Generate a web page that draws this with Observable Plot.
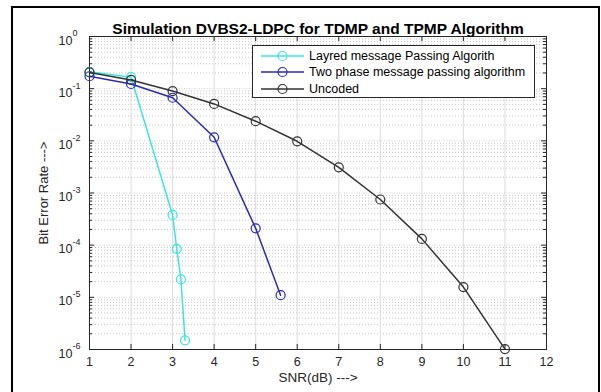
<!DOCTYPE html>
<html><head><meta charset="utf-8">
<script src="https://cdn.jsdelivr.net/npm/d3@7"></script>
<script src="https://cdn.jsdelivr.net/npm/@observablehq/plot@0.6"></script>
<style>
html,body{margin:0;padding:0;background:#fff;overflow:hidden;width:601px;height:392px}
#wrap{position:relative;width:601px;height:392px;font-family:"Liberation Sans",Arial,sans-serif}
#wrap svg{display:block}
#border{position:absolute;left:11px;top:6px;width:589px;height:420px;border:2px solid #000;box-sizing:border-box;pointer-events:none}
#legend{position:absolute;left:252px;top:45px;width:283px;height:53px;border:1px solid #262626;background:#fff;box-sizing:border-box;font-size:12.5px;color:#000;padding-top:2px}
#legend .row{height:16.3px;display:flex;align-items:center;padding-left:7px;white-space:nowrap}
#legend svg{margin-right:4px;flex:none}
</style></head>
<body><div id="wrap"><div id="chart"></div><div id="legend"></div><div id="border"></div></div>
<script>
// ---- data ----
const snrLayered = [1, 2, 3, 3.1, 3.2, 3.3];
const berLayered = [0.21, 0.166, 3.8e-4, 8.5e-5, 2.2e-5, 1.5e-6];
const snrTwoPhase = [1, 2, 3, 4, 5, 5.6];
const berTwoPhase = [0.173, 0.123, 0.067, 0.0117, 2.1e-4, 1.1e-5];
const snrUncoded = [1, 2, 3, 4, 5, 6, 7, 8, 9, 10, 11];
const berUncoded = [0.205, 0.147, 0.09, 0.051, 0.0238, 0.0098, 0.0031, 7.5e-4, 1.32e-4, 1.57e-5, 1.02e-6];
const seriesNames = ["Layred message Passing Algorith", "Two phase message passing algorithm", "Uncoded"];
const seriesColors = ["#3de3e3", "#2a2ab5", "#333333"];
const xTicks = [1, 2, 3, 4, 5, 6, 7, 8, 9, 10, 11, 12];
const yDecades = [1, 1e-1, 1e-2, 1e-3, 1e-4, 1e-5, 1e-6];
const yExponents = ["0", "-1", "-2", "-3", "-4", "-5", "-6"];
const minorMultipliers = [2, 3, 4, 5, 6, 7, 8, 9];
const titleText = "Simulation DVBS2-LDPC for TDMP and TPMP Algorithm";
const xLabel = "SNR(dB) --->";
const yLabel = "Bit Error Rate --->";

const yMinor = yDecades.slice(1).flatMap(d => minorMultipliers.map(m => m * d));
const toRows = (xs, ys) => xs.map((x, i) => ({x, y: ys[i]}));
const series = [toRows(snrLayered, berLayered), toRows(snrTwoPhase, berTwoPhase), toRows(snrUncoded, berUncoded)];

const W = 601, H = 392, mL = 89, mR = 55, mT = 36, mB = 43;
const pw = W - mL - mR, ph = H - mT - mB;
const axisColor = "#262626";

const marks = [
  Plot.gridY(yMinor, {stroke: "#b8b8b8", strokeOpacity: 1, strokeDasharray: "1,2", strokeWidth: 0.8}),
  Plot.gridY(yDecades, {stroke: "#c8c8c8", strokeOpacity: 1, strokeDasharray: "1,1.5", strokeWidth: 0.8}),
  Plot.gridX(xTicks, {stroke: "#d6d6d6", strokeOpacity: 1, strokeWidth: 0.8}),
  // inward ticks
  Plot.ruleX(xTicks, {x: d => d, insetTop: ph - 5, stroke: axisColor}),
  Plot.ruleX(xTicks, {x: d => d, insetBottom: ph - 5, stroke: axisColor}),
  Plot.ruleY(yDecades, {y: d => d, insetRight: pw - 5, stroke: axisColor}),
  Plot.ruleY(yDecades, {y: d => d, insetLeft: pw - 5, stroke: axisColor}),
  Plot.ruleY(yMinor, {y: d => d, insetRight: pw - 3, stroke: axisColor}),
  Plot.ruleY(yMinor, {y: d => d, insetLeft: pw - 3, stroke: axisColor}),
  Plot.frame({stroke: axisColor, strokeWidth: 1}),
  Plot.axisX(xTicks, {tickSize: 0, tickPadding: 8, fontSize: 12.5, fill: axisColor, label: null}),
  Plot.text(yDecades, {y: d => d, frameAnchor: "left", text: () => "10", textAnchor: "end", dx: -17, dy: 4, fontSize: 12.5, fill: axisColor}),
  Plot.text(yDecades, {y: d => d, frameAnchor: "left", text: (d, i) => yExponents[i], textAnchor: "start", dx: -17, dy: -3, fontSize: 9, fill: axisColor}),
  Plot.text([titleText], {frameAnchor: "top", text: d => d, textAnchor: "middle", dy: -14, fontSize: 15.5, fontWeight: "bold", fill: "#000"}),
  Plot.text([xLabel], {frameAnchor: "bottom", text: d => d, textAnchor: "middle", dy: 32, fontSize: 13.5, fill: axisColor}),
  Plot.text([yLabel], {frameAnchor: "left", text: d => d, textAnchor: "middle", dx: -46, rotate: -90, fontSize: 13, fill: axisColor})
];
series.forEach((rows, i) => {
  marks.push(Plot.line(rows, {x: "x", y: "y", stroke: seriesColors[i], strokeWidth: 1.5}));
  marks.push(Plot.dot(rows, {x: "x", y: "y", r: 4.5, stroke: seriesColors[i], fill: "none", strokeWidth: 1.2}));
});

const chart = Plot.plot({
  width: W, height: H, marginLeft: mL, marginRight: mR, marginTop: mT, marginBottom: mB,
  style: {fontFamily: '"Liberation Sans", Arial, sans-serif', background: "#fff", overflow: "visible"},
  x: {domain: [1, 12], axis: null},
  y: {type: "log", domain: [1e-6, 1], axis: null},
  marks
});
document.getElementById("chart").append(chart);

// legend
const legend = document.getElementById("legend");
seriesNames.forEach((name, i) => {
  const row = document.createElement("div");
  row.className = "row";
  row.innerHTML = `<svg width="45" height="12"><line x1="1" x2="44" y1="6" y2="6" stroke="${seriesColors[i]}" stroke-width="1.5"/><circle cx="22.5" cy="6" r="4.5" fill="none" stroke="${seriesColors[i]}" stroke-width="1.2"/></svg><span>${name}</span>`;
  legend.append(row);
});
</script></body></html>
